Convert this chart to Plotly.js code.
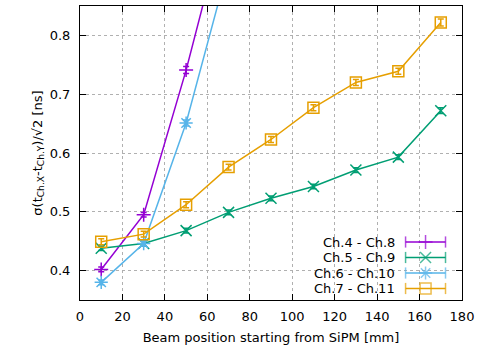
<!DOCTYPE html>
<html>
<head>
<meta charset="utf-8">
<script src="https://cdn.plot.ly/plotly-3.0.1.min.js"></script>
<style>html,body{margin:0;padding:0;background:#fff;}#plot{width:483px;height:353px;}</style>
</head>
<body>
<div id="plot"></div>
<script>
// Beam position along the bar [mm]
const positions = [10, 30, 50, 70, 90, 110, 130, 150, 170];
const positionsShort = [10, 30, 50, 70];

// Time resolution sigma(tX - tY)/sqrt(2) [ns] for each channel pair
const ch4ch8 = [0.402, 0.495, 0.741, 1.02];
const ch4ch8Err = [0.004, 0.004, 0.006, 0.008];
const ch5ch9 = [0.438, 0.446, 0.468, 0.499, 0.523, 0.543, 0.571, 0.593, 0.672];
const ch5ch9Err = [0.004, 0.004, 0.004, 0.004, 0.004, 0.004, 0.004, 0.004, 0.005];
const ch6ch10 = [0.380, 0.446, 0.651, 0.92];
const ch6ch10Err = [0.004, 0.004, 0.005, 0.007];
const ch7ch11 = [0.449, 0.462, 0.512, 0.576, 0.623, 0.677, 0.720, 0.739, 0.822];
const ch7ch11Err = [0.005, 0.005, 0.005, 0.005, 0.005, 0.005, 0.005, 0.005, 0.006];

const seriesNames = ['Ch.4 - Ch.8', 'Ch.5 - Ch.9', 'Ch.6 - Ch.10', 'Ch.7 - Ch.11'];
const seriesColors = ['#9400d3', '#009e73', '#56b4e9', '#e69f00'];
const seriesSymbols = ['cross-thin-open', 'x-thin-open', 'asterisk-open', 'square-open'];
const seriesSizes = [10, 11, 11, 11];

const xTicks = [0, 20, 40, 60, 80, 100, 120, 140, 160, 180];
const yTicks = [0.4, 0.5, 0.6, 0.7, 0.8];

const FONT = 'DejaVu Sans, sans-serif';

// Plot-area geometry in pixels (left, right, top, bottom)
const PA = {l: 80, r: 462.5, t: 6, b: 300};

const xs = [positionsShort, positions, positionsShort, positions];
const ys = [ch4ch8, ch5ch9, ch6ch10, ch7ch11];
const es = [ch4ch8Err, ch5ch9Err, ch6ch10Err, ch7ch11Err];

const traces = [];
for (let i = 0; i < 4; i++) {
  traces.push({
    type: 'scatter', mode: 'lines+markers',
    x: xs[i], y: ys[i], name: seriesNames[i], showlegend: false,
    line: {color: seriesColors[i], width: 1.5},
    marker: {symbol: seriesSymbols[i], size: seriesSizes[i], color: seriesColors[i],
             line: {color: seriesColors[i], width: 1.5}},
    error_y: {type: 'data', array: es[i], visible: true, color: seriesColors[i], thickness: 1.5, width: 3}
  });
}

// Key: right-aligned labels with an error-bar style sample to their right.
// Samples sit on an overlay axis whose units are plot-area pixels.
const keyRows = [242, 257.5, 273, 288.5];
const keyTextRight = 397;
const keySample = [406, 426, 446];
const annotations = [];
for (let i = 0; i < 4; i++) {
  traces.push({
    type: 'scatter', mode: 'lines+markers', xaxis: 'x2', yaxis: 'y2', showlegend: false, hoverinfo: 'skip',
    x: keySample, y: [keyRows[i], keyRows[i], keyRows[i]],
    line: {color: seriesColors[i], width: 1.5},
    marker: {symbol: ['line-ns-open', seriesSymbols[i], 'line-ns-open'],
             size: [8, seriesSizes[i], 8], color: seriesColors[i],
             line: {color: seriesColors[i], width: 1.5}}
  });
  annotations.push({
    xref: 'paper', yref: 'paper',
    x: (keyTextRight - PA.l) / (PA.r - PA.l),
    y: (PA.b - keyRows[i]) / (PA.b - PA.t),
    text: seriesNames[i],
    showarrow: false, xanchor: 'right', yanchor: 'middle',
    font: {family: FONT, size: 13, color: '#000'}
  });
}

const layout = {
  width: 483, height: 353,
  margin: {l: PA.l, r: 483 - PA.r, t: PA.t, b: 353 - PA.b},
  paper_bgcolor: '#fff', plot_bgcolor: '#fff',
  font: {family: FONT, size: 13, color: '#000'},
  showlegend: false,
  xaxis: {
    range: [0, 180], tickvals: xTicks, ticks: 'inside', ticklen: 6, tickcolor: '#000',
    showline: true, linecolor: '#000', linewidth: 1, mirror: 'ticks',
    showgrid: true, gridcolor: '#b0b0b0', griddash: 'dot', gridwidth: 1, zeroline: false,
    tickfont: {family: FONT, size: 13}, ticklabelstandoff: 4,
    title: {text: 'Beam position starting from SiPM [mm]', font: {family: FONT, size: 13}, standoff: 10}
  },
  yaxis: {
    range: [0.35, 0.85], tickvals: yTicks, tickformat: '.1f', ticks: 'inside', ticklen: 6, tickcolor: '#000',
    showline: true, linecolor: '#000', linewidth: 1, mirror: 'ticks',
    showgrid: true, gridcolor: '#b0b0b0', griddash: 'dot', gridwidth: 1, zeroline: false,
    tickfont: {family: FONT, size: 13}, ticklabelstandoff: 6,
    title: {text: 'σ(t<sub>Ch.X</sub>-t<sub>Ch.Y</sub>)/√2 [ns]', font: {family: FONT, size: 13}, standoff: 4}
  },
  xaxis2: {overlaying: 'x', range: [PA.l, PA.r], visible: false, fixedrange: true},
  yaxis2: {overlaying: 'y', range: [PA.b, PA.t], visible: false, fixedrange: true},
  annotations: annotations
};

Plotly.newPlot('plot', traces, layout, {displayModeBar: false, staticPlot: true});
</script>
</body>
</html>
